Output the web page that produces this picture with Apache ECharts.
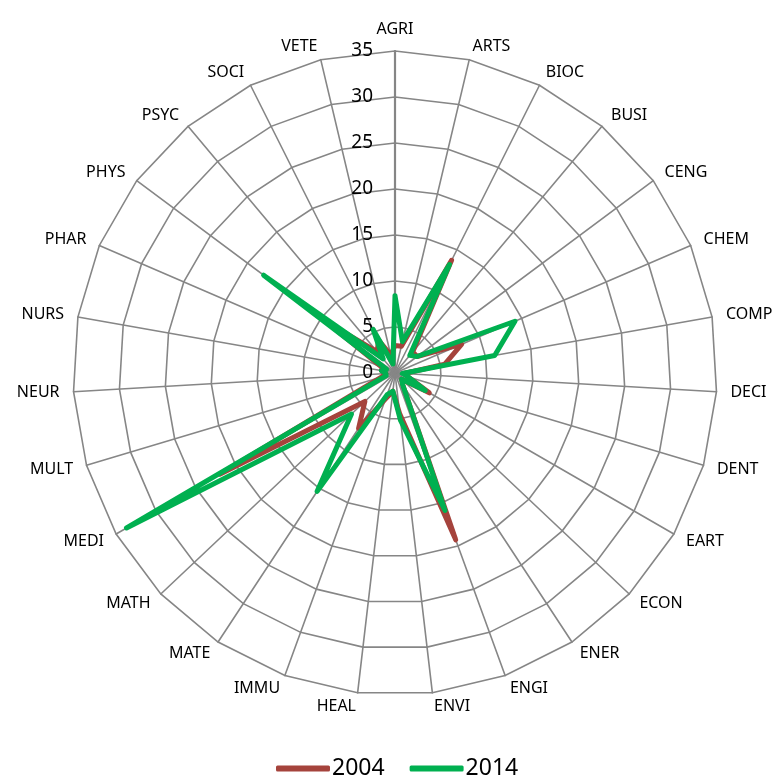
<!DOCTYPE html>
<html>
<head>
<meta charset="utf-8">
<script src="https://cdn.jsdelivr.net/npm/echarts@6/dist/echarts.min.js"></script>
<style>
html,body{margin:0;padding:0;background:#fff;}
#chart{width:778px;height:776px;}
</style>
</head>
<body>
<div id="chart"></div>
<script>
const categories = ['AGRI','ARTS','BIOC','BUSI','CENG','CHEM','COMP','DECI','DENT','EART','ECON','ENER','ENGI','ENVI','HEAL','IMMU','MATE','MATH','MEDI','MULT','NEUR','NURS','PHAR','PHYS','PSYC','SOCI','VETE'];
const values2004 = [3, 3, 13.7, 3, 3, 7.9, 5.5, 1, 1.5, 4.3, 1, 1.5, 19.3, 4.5, 2, 3, 7.2, 4.5, 22, 1.5, 1, 1.5, 1.5, 9.5, 3, 4, 2];
const values2014 = [8.4, 3.5, 13.2, 2.5, 3, 14.2, 11, 0.8, 1.5, 3.8, 1, 1.5, 15.9, 5.2, 2, 2.5, 15.4, 6.5, 33.7, 1, 1, 1.5, 1, 17.8, 2, 5.3, 1];
const seriesNames = ['2004', '2014'];
const colors = ['#A5433C', '#00B050'];
const axisMax = 35;
const tickStep = 5;

// ECharts radar runs counter-clockwise; reorder so categories run clockwise from the top
const order = [0].concat(categories.map((_, i) => i).slice(1).reverse());
const cw = arr => order.map(i => arr[i]);

const chart = echarts.init(document.getElementById('chart'));
const center = [395, 373];
const radius = 322;
const font = 'Noto Sans, Open Sans, sans-serif';

chart.setOption({
  animation: false,
  backgroundColor: '#fff',
  legend: {
    top: 752,
    left: 271,
    data: seriesNames,
    itemWidth: 54,
    itemHeight: 6,
    itemGap: 25,
    icon: 'roundRect',
    textStyle: { fontSize: 23, color: '#000', fontFamily: font, padding: [0,0,0,-3] }
  },
  radar: {
    center: center,
    radius: radius,
    startAngle: 90,
    shape: 'polygon',
    splitNumber: axisMax / tickStep,
    indicator: cw(categories).map(c => ({ name: c, min: 0, max: axisMax })),
    axisName: { color: '#000', fontSize: 16, fontFamily: font },
    nameGap: 14,
    axisLine: { lineStyle: { color: '#868686', width: 1.6 } },
    splitLine: { lineStyle: { color: '#868686', width: 1.6 } },
    splitArea: { show: false },
    axisTick: { show: false },
    axisLabel: { show: false }
  },
  polar: { center: center, radius: radius },
  angleAxis: { type: 'value', startAngle: 90, show: false, min: 0, max: 360 },
  radiusAxis: {
    type: 'value', min: 0, max: axisMax, interval: tickStep,
    axisLine: { show: true, lineStyle: { color: '#868686', width: 2.2 } },
    axisTick: { show: false },
    splitLine: { show: false },
    axisLabel: { show: true, fontSize: 19, color: '#000', fontFamily: font, margin: 22 }
  },
  series: [{
    type: 'radar',
    symbol: 'none',
    data: [
      { name: seriesNames[0], value: cw(values2004), lineStyle: { color: colors[0], width: 5, join: 'round', cap: 'round' }, itemStyle: { color: colors[0] } },
      { name: seriesNames[1], value: cw(values2014), lineStyle: { color: colors[1], width: 5, join: 'round', cap: 'round' }, itemStyle: { color: colors[1] } }
    ]
  }]
});
</script>
</body>
</html>
